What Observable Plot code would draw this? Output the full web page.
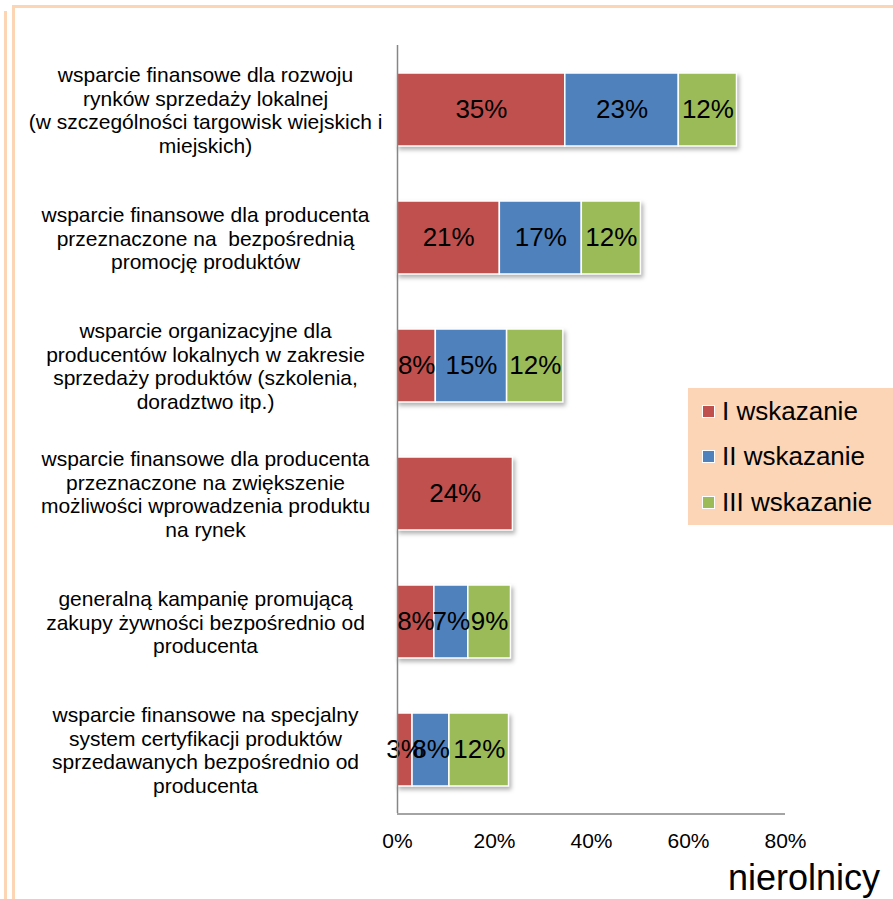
<!DOCTYPE html>
<html>
<head>
<meta charset="utf-8">
<script src="https://cdn.jsdelivr.net/npm/d3@7"></script>
<script src="https://cdn.jsdelivr.net/npm/@observablehq/plot@0.6"></script>
<style>
  html, body { margin: 0; padding: 0; background: #fff; }
  body { width: 893px; height: 899px; overflow: hidden; position: relative; font-family: "Liberation Sans", Arial, sans-serif; }
  #chart { position: absolute; left: 0; top: 0; }
  .deco { position: absolute; background: #FCD5B4; }
  #legend { position: absolute; left: 688px; top: 388px; width: 205px; height: 137px; background: #FBD5B5; }
  .li { position: absolute; left: 0; height: 26px; line-height: 26px; display: flex; align-items: center; font-size: 26px; color: #000; white-space: nowrap; }
  .sw { width: 11px; height: 11px; border: 1px solid #fff; margin-left: 14px; margin-right: 7px; flex: none; }
  #title { position: absolute; left: 728px; top: 860px; font-size: 36px; line-height: 36px; color: #000; white-space: nowrap; }
</style>
</head>
<body>
<div class="deco" style="left:4px; top:11px; width:3px; height:888px;"></div>
<div class="deco" style="left:12px; top:5px; width:3px; height:894px;"></div>
<div class="deco" style="left:12px; top:5px; width:881px; height:3px;"></div>
<div id="chart"></div>
<div id="legend"></div>
<div id="title">nierolnicy</div>
<script>
const categories = [
  "wsparcie finansowe dla rozwoju\nrynków sprzedaży lokalnej\n(w szczególności targowisk wiejskich i\nmiejskich)",
  "wsparcie finansowe dla producenta\nprzeznaczone na  bezpośrednią\npromocję produktów",
  "wsparcie organizacyjne dla\nproducentów lokalnych w zakresie\nsprzedaży produktów (szkolenia,\ndoradztwo itp.)",
  "wsparcie finansowe dla producenta\nprzeznaczone na zwiększenie\nmożliwości wprowadzenia produktu\nna rynek",
  "generalną kampanię promującą\nzakupy żywności bezpośrednio od\nproducenta",
  "wsparcie finansowe na specjalny\nsystem certyfikacji produktów\nsprzedawanych bezpośrednio od\nproducenta"
];
const seriesNames = ["I wskazanie", "II wskazanie", "III wskazanie"];
const seriesColors = ["#C0504D", "#4F81BD", "#9BBB59"];
const valuesI   = [34.6, 21.1, 7.9, 23.8, 7.6, 3.1];
const valuesII  = [23.4, 16.9, 14.7, 0, 7.0, 7.6];
const valuesIII = [12.0, 12.2, 11.6, 0, 8.8, 12.3];
const xTicks = [0, 0.2, 0.4, 0.6, 0.8];

const data = [];
[valuesI, valuesII, valuesIII].forEach((vals, si) => {
  vals.forEach((v, ci) => {
    if (v > 0) data.push({cat: categories[ci], series: seriesNames[si], value: v / 100});
  });
});

const plot = Plot.plot({
  width: 893,
  height: 899,
  marginLeft: 397,
  marginRight: 108,
  marginTop: 45,
  marginBottom: 86,
  style: {fontFamily: '"Liberation Sans", Arial, sans-serif', background: "transparent", overflow: "visible"},
  x: {domain: [0, 0.8], ticks: xTicks, tickFormat: d => Math.round(d * 100) + "%", label: null},
  y: {domain: categories, paddingInner: 0.43, paddingOuter: 0.215, label: null, axis: null},
  color: {domain: seriesNames, range: seriesColors},
  marks: [
    Plot.barX(data, Plot.stackX({x: "value", y: "cat", fill: "series", order: seriesNames, stroke: "#fff", strokeWidth: 1.5})),
    Plot.text(data, Plot.stackX({x: "value", y: "cat", z: "series", order: seriesNames, text: d => Math.round(d.value * 100) + "%", fontSize: 26, fill: "#000"})),
    Plot.text(categories, {y: d => d, frameAnchor: "left", dx: -192, textAnchor: "middle", fontSize: 21, lineHeight: 1.12, fill: "#000"}),
    Plot.ruleX([0], {stroke: "#868686", strokeWidth: 1.5}),
    Plot.ruleY([categories[categories.length - 1]], {y: d => d, x1: 0, x2: 0.8, dy: 64, stroke: "#868686", strokeWidth: 1.5}),
    Plot.axisX({ticks: xTicks, tickSize: 0, tickPadding: 20, fontSize: 21, tickFormat: d => Math.round(d * 100) + "%", label: null})
  ]
});
document.getElementById("chart").appendChild(plot);
d3.select(plot).selectAll("g[aria-label='bar']").style("filter", "drop-shadow(2px 3px 2px rgba(0,0,0,0.3))");
d3.select(plot).selectAll("g[aria-label='x-axis tick label']").attr("fill", "#000");

const legend = d3.select("#legend");
const legendTops = [10, 55, 101];
seriesNames.forEach((name, i) => {
  const item = legend.append("div").attr("class", "li").style("top", legendTops[i] + "px");
  item.append("div").attr("class", "sw").style("background", seriesColors[i]);
  item.append("span").text(name);
});
</script>
</body>
</html>
